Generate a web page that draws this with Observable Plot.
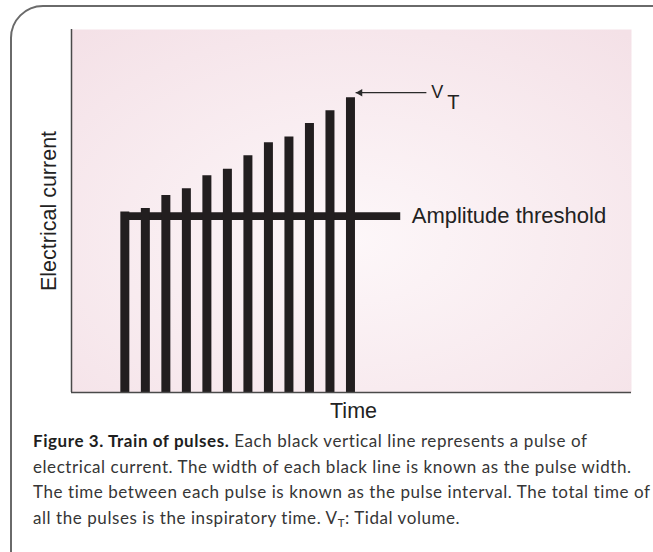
<!DOCTYPE html>
<html>
<head>
<meta charset="utf-8">
<script src="https://cdn.jsdelivr.net/npm/d3@7"></script>
<script src="https://cdn.jsdelivr.net/npm/@observablehq/plot@0.6"></script>
<style>
  html, body { margin: 0; padding: 0; background: #fff; width: 653px; height: 552px; overflow: hidden; }
  #frame { position: absolute; left: 10px; top: 5px; width: 720px; height: 620px; box-sizing: border-box;
           border: 2px solid #6a6a6a; border-top-left-radius: 33px; }
  #chart { position: absolute; left: 0; top: 0; }
  #caption { position: absolute; left: 33px; top: 428px; font-family: Lato, "Open Sans", sans-serif; font-size: 17px;
             line-height: 25.5px; color: #363636; white-space: nowrap; }
  #caption b { color: #1e1e1e; font-weight: 700; }
  #caption .line { display: block; }
  #caption sub { font-size: 11.5px; line-height: 0; vertical-align: -3px; }
</style>
</head>
<body>
<div id="frame"></div>
<div id="chart"></div>
<div id="caption"></div>
<script>
// ---- data ----
const pulseTimes   = [1, 2, 3, 4, 5, 6, 7, 8, 9, 10, 11, 12];
const pulseCurrent = [49.7, 50.7, 54.3, 56.1, 59.7, 61.5, 65.2, 68.8, 70.4, 74.1, 77.6, 81.2];
const thresholdLevel = 48.6;
const thresholdEnd = 14.45;
const timeDomain = [-1.6, 25.7];
const currentDomain = [0, 100];
const vtLevel = 82.6;
const vtArrowStart = 15.7;
const vtArrowTip = 12.25;
const xLabel = "Time";
const yLabel = "Electrical current";
const thresholdLabel = "Amplitude threshold";
const captionBold = "Figure 3. Train of pulses.";
const captionLines = [
  " Each black vertical line represents a pulse of",
  "electrical current. The width of each black line is known as the pulse width.",
  "The time between each pulse is known as the pulse interval. The total time of",
  "all the pulses is the inspiratory time. V"
];
const captionTail = ": Tidal volume.";

const pulses = pulseTimes.map((t, i) => ({t, current: pulseCurrent[i]}));
const ink = "#221e1f";
const axisColor = "#4a4a4a";
const labelColor = "#222";

const defsMark = () => {
  const defs = d3.create("svg:defs");
  const g = defs.append("radialGradient").attr("id", "bg")
    .attr("cx", "50%").attr("cy", "58%").attr("r", "75%");
  g.append("stop").attr("offset", "0%").attr("stop-color", "#fdf7f9");
  g.append("stop").attr("offset", "100%").attr("stop-color", "#f4e1e7");
  return defs.node();
};

const chart = Plot.plot({
  width: 653,
  height: 440,
  marginLeft: 71,
  marginRight: 22,
  marginTop: 29,
  marginBottom: 48,
  x: {domain: timeDomain, axis: null},
  y: {domain: currentDomain, axis: null},
  style: {fontFamily: "'Liberation Sans', Arial, sans-serif", background: "transparent", overflow: "visible"},
  marks: [
    defsMark,
    Plot.frame({fill: "url(#bg)", stroke: "none"}),
    Plot.ruleY([thresholdLevel], {x1: pulseTimes[0], x2: thresholdEnd, stroke: ink, strokeWidth: 7.6}),
    Plot.ruleX(pulses, {x: "t", y1: 0, y2: "current", stroke: ink, strokeWidth: 9}),
    Plot.ruleX([timeDomain[0]], {stroke: axisColor, strokeWidth: 1.5}),
    Plot.ruleY([currentDomain[0]], {stroke: axisColor, strokeWidth: 1.5}),
    // V_T annotation
    Plot.link([{x1: vtArrowStart, x2: vtArrowTip, y: vtLevel}], {x1: "x1", x2: "x2", y1: "y", y2: "y", stroke: "#2a2a2a", strokeWidth: 1.3}),
    Plot.dot([{x: vtArrowTip, y: vtLevel}], {x: "x", y: "y", symbol: "triangle", r: 2.8, rotate: -90, dx: 4.5, fill: "#2a2a2a", stroke: "none"}),
    Plot.text(["V"], {x: vtArrowStart, y: vtLevel, text: d => d, textAnchor: "start", lineAnchor: "middle", dx: 5, fontSize: 18, fill: labelColor}),
    Plot.text(["T"], {x: vtArrowStart, y: vtLevel, text: d => d, textAnchor: "start", lineAnchor: "middle", dx: 21, dy: 9.5, fontSize: 20, fill: labelColor}),
    // threshold label
    Plot.text([thresholdLabel], {x: thresholdEnd, y: thresholdLevel, text: d => d, textAnchor: "start", lineAnchor: "middle", dx: 11, fontSize: 22, fill: labelColor}),
    // axis labels
    Plot.text([xLabel], {frameAnchor: "bottom", text: d => d, textAnchor: "middle", lineAnchor: "middle", dy: 19, dx: 2, fontSize: 21.5, fill: labelColor}),
    Plot.text([yLabel], {frameAnchor: "left", text: d => d, rotate: -90, textAnchor: "middle", lineAnchor: "middle", dx: -22, fontSize: 21.5, fill: labelColor})
  ]
});
document.getElementById("chart").append(chart);

// caption
const cap = d3.select("#caption");
captionLines.forEach((txt, i) => {
  const line = cap.append("span").attr("class", "line");
  if (i === 0) line.append("b").text(captionBold);
  line.append("span").text(txt);
  if (i === captionLines.length - 1) {
    line.append("sub").text("T");
    line.append("span").text(captionTail);
  }
});
// fit letter-spacing so the third line spans the width seen in the reference
const target = 618;
const s = document.createElement("span");
s.style.display = "inline-block";
s.textContent = captionLines[2];
document.getElementById("caption").appendChild(s);
const w3 = s.getBoundingClientRect().width;
s.remove();
cap.style("letter-spacing", ((target - w3) / captionLines[2].length).toFixed(3) + "px");
</script>
</body>
</html>
